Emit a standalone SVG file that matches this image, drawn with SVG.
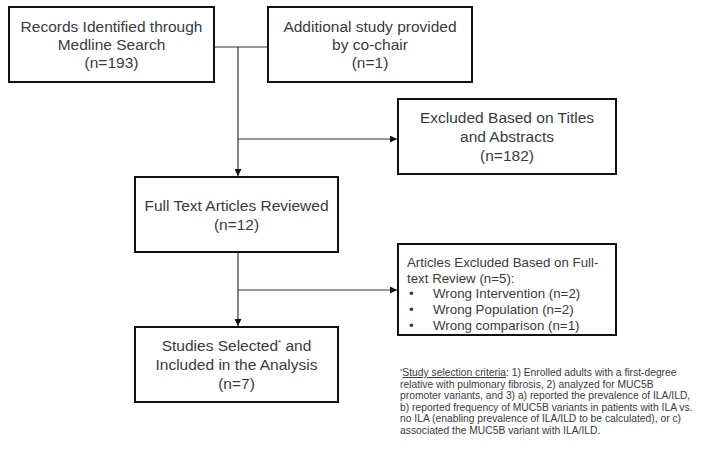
<svg xmlns="http://www.w3.org/2000/svg" width="714" height="449" viewBox="0 0 714 449">
<defs>
<marker id="arr" viewBox="0 0 10 10" refX="10" refY="5" markerWidth="7" markerHeight="7" markerUnits="userSpaceOnUse" orient="auto">
<path d="M0,0 L10,5 L0,10 z" fill="#111"/>
</marker>
<style>
.box{fill:#fff;stroke:#111;stroke-width:2}
.t{font-family:"Liberation Sans",Arial,sans-serif;font-size:15.5px;fill:#3a3a3a;text-anchor:middle}
.s{font-family:"Liberation Sans",Arial,sans-serif;font-size:13.3px;fill:#3a3a3a}
.f{font-family:"Liberation Sans",Arial,sans-serif;font-size:10.3px;fill:#3a3a3a}
.c{fill:none;stroke:#333;stroke-width:1.2}
</style>
</defs>
<rect width="714" height="449" fill="#fff"/>
<g id="connectors">
<line class="c" x1="214" y1="47" x2="268" y2="47"/>
<line class="c" x1="238" y1="47" x2="238" y2="176" marker-end="url(#arr)"/>
<line class="c" x1="238" y1="139" x2="397" y2="139" marker-end="url(#arr)"/>
<line class="c" x1="238" y1="252" x2="238" y2="326" marker-end="url(#arr)"/>
<line class="c" x1="238" y1="290" x2="397" y2="290" marker-end="url(#arr)"/>
</g>
<g id="records">
<rect class="box" x="9" y="7" width="205" height="75"/>
<text class="t" x="111.5" y="32">Records Identified through</text>
<text class="t" x="111.5" y="50">Medline Search</text>
<text class="t" x="111.5" y="68">(n=193)</text>
</g>
<g id="additional">
<rect class="box" x="268" y="7" width="204" height="75"/>
<text class="t" x="370" y="32">Additional study provided</text>
<text class="t" x="370" y="50">by co-chair</text>
<text class="t" x="370" y="68">(n=1)</text>
</g>
<g id="excluded-titles">
<rect class="box" x="398" y="99" width="218" height="75"/>
<text class="t" x="507" y="123">Excluded Based on Titles</text>
<text class="t" x="507" y="142">and Abstracts</text>
<text class="t" x="507" y="161">(n=182)</text>
</g>
<g id="full-text">
<rect class="box" x="135" y="177" width="203" height="75"/>
<text class="t" x="236.5" y="211">Full Text Articles Reviewed</text>
<text class="t" x="236.5" y="230">(n=12)</text>
</g>
<g id="excluded-fulltext">
<rect class="box" x="398" y="244" width="218" height="91"/>
<text class="s" x="407" y="267">Articles Excluded Based on Full-</text>
<text class="s" x="407" y="283">text Review (n=5):</text>
<text class="s" x="409" y="298">•</text>
<text class="s" x="433" y="298">Wrong Intervention (n=2)</text>
<text class="s" x="409" y="314">•</text>
<text class="s" x="433" y="314">Wrong Population (n=2)</text>
<text class="s" x="409" y="330">•</text>
<text class="s" x="433" y="330">Wrong comparison (n=1)</text>
</g>
<g id="included">
<rect class="box" x="135" y="327" width="203" height="75"/>
<text class="t" x="236.5" y="351">Studies Selected<tspan font-size="8" dy="-6">*</tspan><tspan dy="6"> and</tspan></text>
<text class="t" x="236.5" y="370">Included in the Analysis</text>
<text class="t" x="236.5" y="389">(n=7)</text>
</g>
<g id="footnote">
<text class="f" x="400" y="376"><tspan font-size="6" dy="-3">*</tspan><tspan dy="3" text-decoration="underline">Study selection criteria</tspan>: 1) Enrolled adults with a first-degree</text>
<text class="f" x="400" y="387.5">relative with pulmonary fibrosis, 2) analyzed for MUC5B</text>
<text class="f" x="400" y="399">promoter variants, and 3) a) reported the prevalence of ILA/ILD,</text>
<text class="f" x="400" y="410.5">b) reported frequency of MUC5B variants in patients with ILA vs.</text>
<text class="f" x="400" y="422">no ILA (enabling prevalence of ILA/ILD to be calculated), or c)</text>
<text class="f" x="400" y="433.5">associated the MUC5B variant with ILA/ILD.</text>
</g>
</svg>
